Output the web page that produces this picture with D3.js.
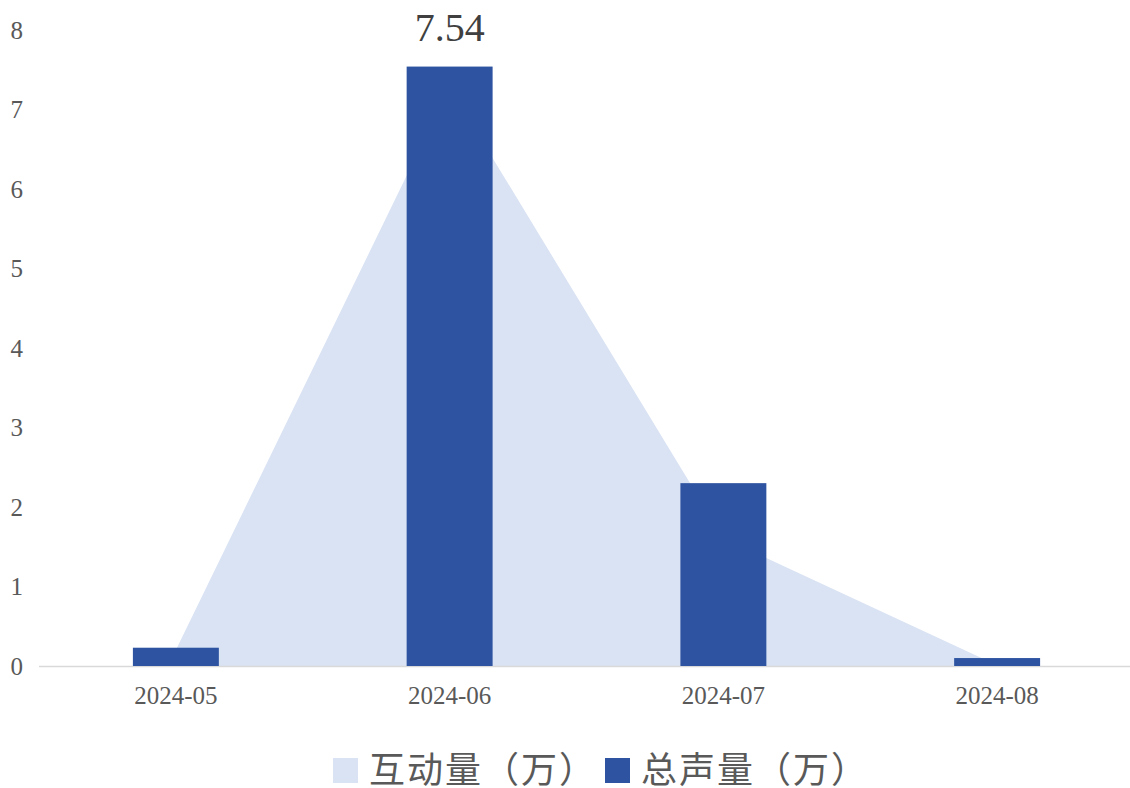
<!DOCTYPE html>
<html>
<head>
<meta charset="utf-8">
<script src="https://cdn.jsdelivr.net/npm/d3@7"></script>
<style>
  body { margin: 0; background: #fff; }
  .axis text { font-family: "Liberation Serif", "DejaVu Serif", serif; fill: #595959; }
  .legend text { font-family: "Noto Sans CJK SC", sans-serif; fill: #595959; }
</style>
</head>
<body>
<div id="chart"></div>
<script>
// data
var months = ['2024-05', '2024-06', '2024-07', '2024-08'];
var interaction = [0.2, 7.28, 1.61, 0.01];   // 互动量（万）
var volume = [0.23, 7.54, 2.30, 0.10];       // 总声量（万）
var yTicks = [0, 1, 2, 3, 4, 5, 6, 7, 8];
var seriesNames = ['互动量（万）', '总声量（万）'];
var colors = ['#dae3f3', '#2e54a1'];

var width = 1130, height = 788;
var margin = {left: 39, right: -4, top: 30, bottom: 122};

var svg = d3.select('#chart').append('svg')
    .attr('width', width)
    .attr('height', height);

var x = d3.scaleBand()
    .domain(months)
    .range([margin.left, width - margin.right])
    .paddingInner(0.686)
    .paddingOuter(0.343);

var y = d3.scaleLinear()
    .domain([0, 8])
    .range([height - margin.bottom, margin.top]);

var cx = d => x(d) + x.bandwidth() / 2;

// area behind the bars
var area = d3.area()
    .x((d, i) => cx(months[i]))
    .y0(y(0))
    .y1(d => y(d));

svg.append('path')
    .datum(interaction)
    .attr('d', area)
    .attr('fill', colors[0]);

// axis line
svg.append('line')
    .attr('x1', margin.left).attr('x2', width)
    .attr('y1', y(0) + 0.5).attr('y2', y(0) + 0.5)
    .attr('stroke', '#d9d9d9')
    .attr('stroke-width', 1.5);

// bars
svg.selectAll('rect.bar')
    .data(volume)
    .enter().append('rect')
    .attr('class', 'bar')
    .attr('x', (d, i) => x(months[i]))
    .attr('width', x.bandwidth())
    .attr('y', d => y(d))
    .attr('height', d => y(0) - y(d))
    .attr('fill', colors[1]);

// value label on the peak
var peak = d3.maxIndex(volume);
svg.append('text')
    .attr('x', cx(months[peak]))
    .attr('y', y(volume[peak]) - 26)
    .attr('text-anchor', 'middle')
    .attr('font-family', '"Liberation Serif", serif')
    .attr('font-size', 40)
    .attr('fill', '#404040')
    .text(volume[peak].toFixed(2));

// y axis
var yAxis = d3.axisLeft(y).tickValues(yTicks).tickSize(0).tickPadding(0);
var gy = svg.append('g')
    .attr('class', 'axis')
    .attr('transform', 'translate(23,0)')
    .call(yAxis);
gy.select('.domain').remove();
gy.selectAll('text').attr('font-size', 25).attr('dy', '0.32em');

// x axis
var xAxis = d3.axisBottom(x).tickSize(0).tickPadding(20);
var gx = svg.append('g')
    .attr('class', 'axis')
    .attr('transform', 'translate(0,' + y(0) + ')')
    .call(xAxis);
gx.select('.domain').remove();
gx.selectAll('text').attr('font-size', 25);

// legend
var legend = svg.append('g').attr('class', 'legend');
var legendX = [333, 605];
seriesNames.forEach(function(name, i){
    var g = legend.append('g').attr('transform', 'translate(' + legendX[i] + ',758)');
    g.append('rect')
        .attr('width', 25).attr('height', 25)
        .attr('fill', colors[i]);
    g.append('text')
        .attr('x', 36)
        .attr('y', 12.5)
        .attr('dy', '0.35em')
        .attr('font-size', 36)
        .attr('letter-spacing', 2)
        .text(name);
});
</script>
</body>
</html>
